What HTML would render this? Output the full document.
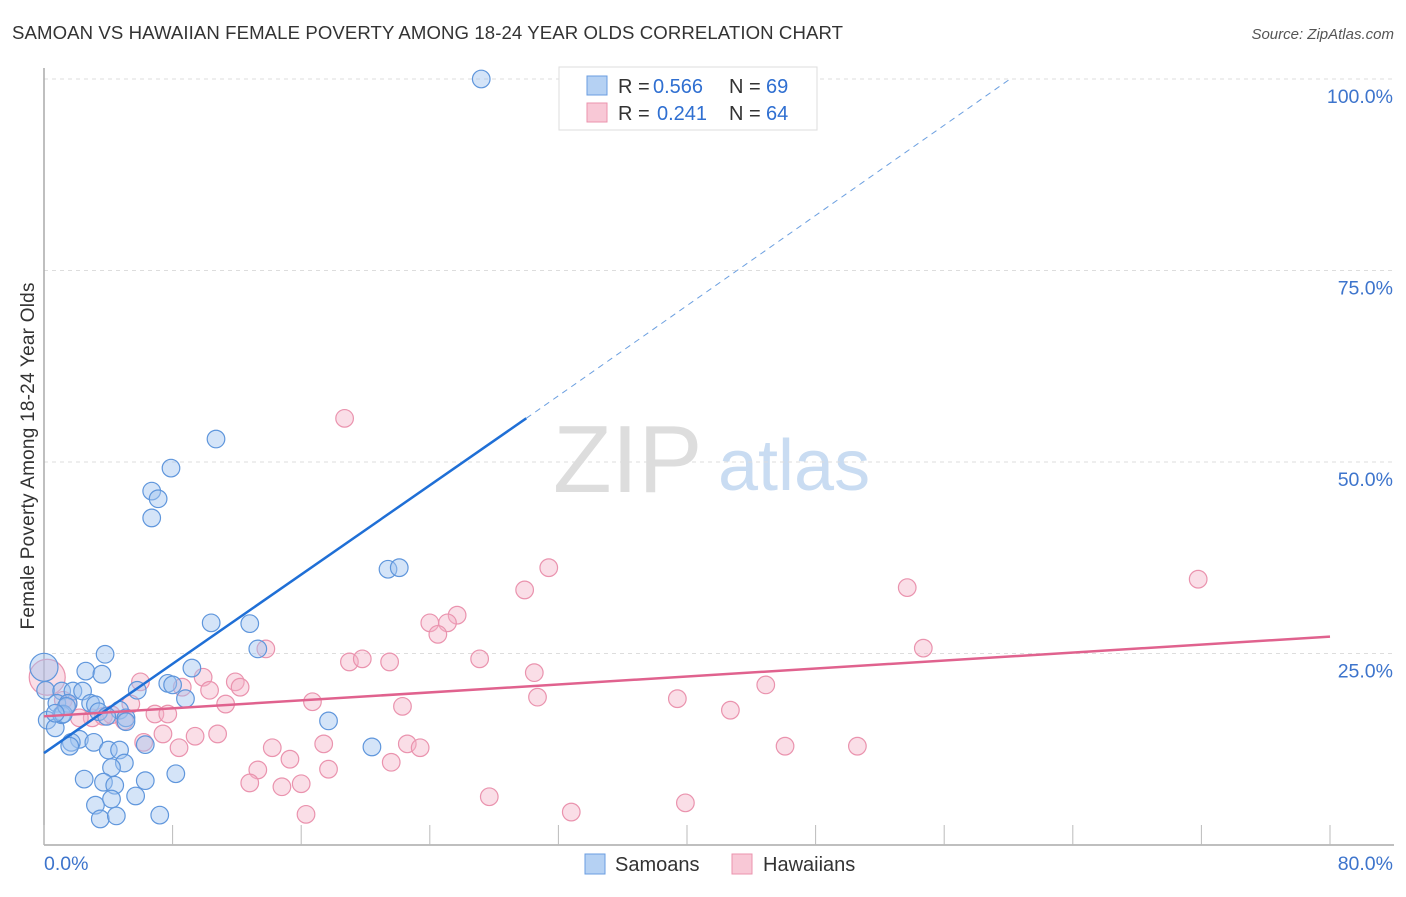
<!DOCTYPE html>
<html><head><meta charset="utf-8"><style>
body{margin:0;background:#fff;font-family:"Liberation Sans",sans-serif}
svg text{font-family:"Liberation Sans",sans-serif}
</style></head><body>
<svg id="chart" width="1406" height="892" viewBox="0 0 1406 892" xmlns="http://www.w3.org/2000/svg">
<text x="12" y="39" font-size="18.6" fill="#333" textLength="831">SAMOAN VS HAWAIIAN FEMALE POVERTY AMONG 18-24 YEAR OLDS CORRELATION CHART</text>
<text x="1394" y="39" font-size="15" fill="#555" font-style="italic" text-anchor="end">Source: ZipAtlas.com</text>
<text transform="translate(34,456) rotate(-90)" font-size="19" fill="#333" text-anchor="middle" textLength="347">Female Poverty Among 18-24 Year Olds</text>
<g>
<text x="553" y="492" font-size="96" fill="#ddd" font-family="Liberation Serif, serif">ZIP</text>
<text x="718" y="490" font-size="72" fill="#c9dcf2">atlas</text>
</g>
<g id="grid"></g><g id="axes"></g><g id="marks"></g><g id="lines"></g>
<g>
<rect x="559" y="67" width="258" height="63" fill="#fff" stroke="#ddd"/>
<rect x="587" y="76" width="20" height="19" fill="#b5d1f3" stroke="#6a9de0"/>
<text x="618" y="93" font-size="20" fill="#333">R = </text><text x="653" y="93" font-size="20" fill="#2f6fd1">0.566</text>
<text x="729" y="93" font-size="20" fill="#333">N = </text><text x="766" y="93" font-size="20" fill="#2f6fd1">69</text>
<rect x="587" y="103" width="20" height="19" fill="#f8c8d6" stroke="#eb93ae"/>
<text x="618" y="120" font-size="20" fill="#333">R = </text><text x="657" y="120" font-size="20" fill="#2f6fd1">0.241</text>
<text x="729" y="120" font-size="20" fill="#333">N = </text><text x="766" y="120" font-size="20" fill="#2f6fd1">64</text>
</g>
<g>
<rect x="585" y="854" width="20" height="20" fill="#b5d1f3" stroke="#6a9de0"/>
<text x="615" y="871" font-size="20" fill="#333">Samoans</text>
<rect x="732" y="854" width="20" height="20" fill="#f8c8d6" stroke="#eb93ae"/>
<text x="763" y="871" font-size="20" fill="#333">Hawaiians</text>
</g>
</svg>
<script>
const xTickVals=[0,8,16,24,32,40,48,56,64,72,80];
const yTickVals=[25,50,75,100];
const yTickLabels=["25.0%","50.0%","75.0%","100.0%"];
const xEndLabels=["0.0%","80.0%"];
const samoanX=[27.2,10.7,7.9,6.7,7.1,6.7,21.4,22.1,10.4,12.8,13.3,3.8,2.6,3.6,9.2,7.7,8.0,5.8,0.1,1.1,1.8,2.4,8.8,0.8,1.5,2.9,3.2,4.7,3.4,3.9,5.1,5.1,17.7,0.2,0.7,1.1,2.2,1.7,1.6,3.1,4.0,4.7,6.3,20.4,5.0,4.2,2.5,3.7,6.3,8.2,4.4,3.2,4.2,5.7,7.2,3.5,4.5,1.2,1.4,0.7,0];
const samoanY=[100,53.0,49.2,46.2,45.2,42.7,36.0,36.2,29.0,28.9,25.6,24.9,22.7,22.3,23.1,21.1,20.9,20.2,20.2,20.1,20.1,20.1,19.1,18.5,18.5,18.5,18.3,17.6,17.4,16.8,16.6,16.1,16.2,16.3,15.3,17.0,13.8,13.4,12.9,13.4,12.4,12.4,13.1,12.8,10.7,10.1,8.6,8.2,8.4,9.3,7.8,5.2,6.0,6.4,3.9,3.4,3.8,17.1,18.1,17.2,23.2];
const hawaiianX=[18.7,31.4,29.9,71.8,53.7,25.7,24.0,25.1,24.5,54.7,13.8,27.1,19.0,19.8,21.5,30.5,6.0,9.9,11.9,12.2,8.6,10.3,44.9,30.7,39.4,16.7,11.3,22.3,42.7,5.4,6.9,7.7,5.0,3.0,3.7,7.4,10.8,9.4,6.2,8.4,14.2,17.4,22.6,23.4,46.1,50.6,15.3,21.6,13.3,17.7,12.8,14.8,16.0,27.7,39.9,32.8,16.3,1.2,1.5,0.2,2.2,4.2];
const hawaiianY=[55.7,36.2,33.3,34.7,33.6,30.0,29.0,29.0,27.5,25.7,25.6,24.3,23.9,24.3,23.9,22.5,21.3,21.9,21.3,20.6,20.6,20.2,20.9,19.3,19.1,18.7,18.4,18.1,17.6,18.4,17.1,17.1,16.2,16.6,16.8,14.5,14.5,14.2,13.4,12.7,12.7,13.2,13.2,12.7,12.9,12.9,11.2,10.8,9.8,9.9,8.1,7.6,8.0,6.3,5.5,4.3,4.0,18.9,18.4,21.9,16.6,17.0];
const samoanTrend=[[0,12.0],[30.0,55.7],[60.1,100]];
const hawaiianTrend=[[0,16.8],[80,27.2]];

const NS="http://www.w3.org/2000/svg";
const X0=44,X1=1330,Y0=845,Y100=79;
const xs=v=>X0+(X1-X0)*v/80;
const ys=v=>Y0-(Y0-Y100)*v/100;
function mk(tag,attrs,parent){const e=document.createElementNS(NS,tag);for(const k in attrs)e.setAttribute(k,attrs[k]);parent.appendChild(e);return e;}
const grid=document.getElementById('grid'),axes=document.getElementById('axes'),marks=document.getElementById('marks'),lines=document.getElementById('lines');
yTickVals.forEach((v,i)=>{
  const g=mk('line',{x1:X0,x2:1394,y1:ys(v),y2:ys(v),stroke:'#ddd','stroke-dasharray':'4,4'},grid);
  
  
  const t=mk('text',{x:1393,y:ys(v)+24,'font-size':19.5,fill:'#3d74cc','text-anchor':'end'},axes);
  t.textContent=yTickLabels[i];
  
  
});
const ax=mk('line',{x1:X0,x2:1394,y1:Y0,y2:Y0,stroke:'#aaa','stroke-width':1.5},axes);


const ay=mk('line',{x1:X0,x2:X0,y1:68,y2:Y0,stroke:'#aaa','stroke-width':1.5},axes);


xTickVals.forEach(v=>{
  const t=mk('line',{x1:xs(v),x2:xs(v),y1:Y0-20,y2:Y0,stroke:'#bbb'},axes);
  
  
});
[[0,'start'],[80,'end']].forEach((p,i)=>{
  const t=mk('text',{x:i?1393:44,y:870,'font-size':19.5,fill:'#3d74cc','text-anchor':p[1]},axes);
  t.textContent=xEndLabels[i];
  
  
});
hawaiianX.forEach((x,i)=>{
  const big=(x<0.5);
  const c=mk('circle',{cx:xs(x),cy:ys(hawaiianY[i]),r:big?18:8.8,fill:'rgba(244,176,198,0.42)',stroke:'#ea93ae','stroke-width':1.2},marks);
  
  
});
samoanX.forEach((x,i)=>{
  const big=(x===0);
  const c=mk('circle',{cx:xs(x),cy:ys(samoanY[i]),r:big?14:8.8,fill:'rgba(160,196,240,0.45)',stroke:'#5f96dc','stroke-width':1.2},marks);
  
  
});
const bl=mk('line',{x1:xs(samoanTrend[0][0]),y1:ys(samoanTrend[0][1]),x2:xs(samoanTrend[1][0]),y2:ys(samoanTrend[1][1]),stroke:'#1f6fd6','stroke-width':2.5},lines);


const bd=mk('line',{x1:xs(samoanTrend[1][0]),y1:ys(samoanTrend[1][1]),x2:xs(samoanTrend[2][0]),y2:ys(samoanTrend[2][1]),stroke:'#6b9fe0','stroke-width':1,'stroke-dasharray':'6,5'},lines);


const pl=mk('line',{x1:xs(hawaiianTrend[0][0]),y1:ys(hawaiianTrend[0][1]),x2:xs(hawaiianTrend[1][0]),y2:ys(hawaiianTrend[1][1]),stroke:'#e0628e','stroke-width':2.5},lines);


</script>
</body></html>
